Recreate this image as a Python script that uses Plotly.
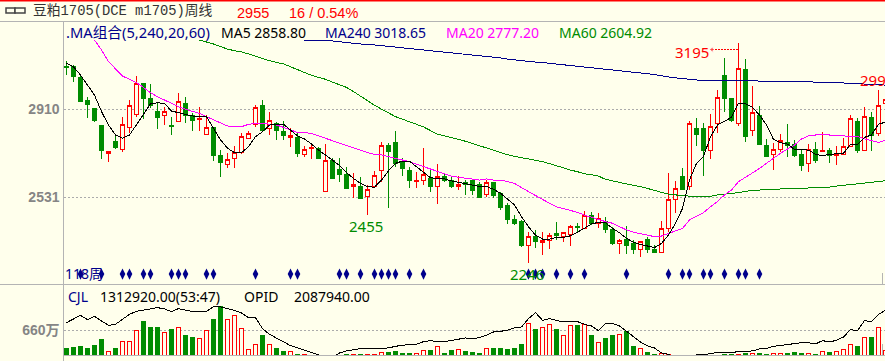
import plotly.graph_objects as go

W, H = 885, 361
BG = "#FFFFEC"
RED = "#FF0000"
GREEN = "#008C00"
NAVY = "#00008B"
MAG = "#FF00FF"
GRAY = "#B4B4B4"

opens = [3095,3095,3046,2947,2913,2841,2719,2772,2735,2831,2886,3021,2956,2900,2883,2840,2857,2934,2880,2865,2801,2831,2710,2670,2698,2723,2784,2845,2923,2825,2848,2811,2789,2787,2713,2739,2739,2554,2689,2650,2630,2578,2578,2532,2575,2647,2752,2766,2680,2647,2597,2604,2611,2575,2619,2604,2575,2593,2600,2587,2541,2593,2547,2494,2435,2425,2323,2363,2336,2342,2372,2363,2370,2406,2396,2453,2418,2425,2389,2331,2349,2331,2306,2346,2303,2293,2396,2521,2621,2575,2827,2824,2732,2848,3056,2956,2848,3078,2818,2880,2751,2715,2736,2766,2758,2712,2676,2736,2726,2732,2710,2716,2748,2858,2732,2874,2805,2932]
closes = [3088,3052,2944,2929,2860,2731,2726,2743,2844,2926,3021,2955,2923,2873,2900,2834,2942,2884,2860,2870,2831,2709,2679,2693,2723,2791,2805,2917,2817,2860,2817,2795,2794,2719,2736,2745,2696,2687,2609,2626,2568,2583,2525,2564,2623,2752,2729,2676,2652,2604,2604,2630,2575,2621,2604,2575,2587,2583,2561,2530,2593,2537,2486,2432,2418,2324,2363,2339,2342,2367,2365,2377,2406,2400,2451,2416,2439,2389,2329,2344,2324,2303,2339,2306,2291,2396,2521,2568,2565,2848,2802,2733,2834,2960,2955,2860,3085,2791,2896,2759,2705,2736,2775,2751,2709,2666,2736,2690,2731,2709,2719,2748,2870,2731,2878,2795,2926,2952]
highs = [3118,3100,3061,2960,2913,2841,2731,2794,2874,2949,3052,3021,3018,2942,2917,2877,2977,2960,2891,2920,2884,2834,2733,2719,2752,2805,2817,2926,2949,2899,2855,2858,2827,2812,2752,2762,2748,2759,2698,2698,2662,2633,2619,2583,2642,2766,2765,2815,2698,2662,2640,2741,2647,2673,2633,2619,2621,2604,2604,2597,2604,2597,2554,2504,2453,2432,2382,2389,2382,2374,2425,2382,2410,2420,2471,2468,2461,2446,2403,2349,2406,2346,2342,2357,2324,2428,2633,2600,2657,2860,2870,2848,2889,2990,3128,2956,3195,3124,3009,2923,2779,2762,2802,2845,2776,2733,2758,2769,2810,2741,2751,2787,2884,2870,2917,2899,2994,2955]
lows = [3056,3028,2940,2871,2855,2693,2683,2738,2726,2808,2877,2867,2916,2824,2841,2798,2857,2848,2815,2817,2801,2687,2619,2654,2654,2716,2784,2834,2812,2798,2777,2777,2748,2705,2702,2693,2696,2554,2609,2594,2564,2525,2522,2453,2568,2597,2482,2662,2623,2568,2568,2583,2554,2501,2597,2568,2561,2540,2540,2530,2532,2525,2475,2415,2410,2317,2245,2310,2281,2307,2346,2339,2320,2374,2392,2410,2396,2374,2324,2285,2285,2285,2274,2291,2291,2291,2382,2464,2561,2561,2751,2623,2693,2808,2899,2855,2837,2769,2795,2755,2705,2647,2726,2705,2705,2644,2640,2676,2726,2676,2669,2715,2748,2719,2731,2731,2794,2906]

ma5 = [3107,3092,3056,3013,2970,2899,2841,2798,2784,2798,2841,2884,2932,2937,2934,2901,2894,2889,2880,2878,2877,2827,2777,2741,2722,2722,2748,2791,2812,2841,2845,2844,2820,2794,2781,2759,2733,2712,2690,2666,2636,2611,2590,2576,2573,2604,2644,2676,2686,2685,2662,2636,2614,2610,2609,2600,2594,2587,2580,2576,2576,2564,2547,2521,2497,2446,2403,2367,2350,2350,2357,2357,2364,2379,2396,2415,2422,2420,2396,2377,2353,2336,2327,2320,2313,2331,2367,2418,2482,2604,2676,2705,2791,2841,2858,2874,2934,2932,2917,2884,2841,2779,2765,2759,2736,2733,2733,2715,2709,2715,2716,2719,2758,2758,2788,2798,2845,2853]
ma20 = [None]*4 + [3207,3164,3114,3085,3052,3038,3023,3003,2980,2963,2949,2932,2920,2909,2899,2891,2877,2863,2848,2837,2834,2834,2844,2848,2848,2845,2841,2831,2820,2809,2808,2805,2794,2784,2772,2762,2751,2741,2731,2722,2715,2712,2705,2698,2690,2683,2672,2662,2650,2640,2630,2621,2616,2611,2607,2604,2609,2604,2604,2597,2590,2571,2554,2535,2518,2504,2489,2482,2475,2465,2453,2443,2435,2425,2418,2403,2389,2379,2374,2367,2360,2363,2374,2384,2396,2432,2449,2464,2489,2511,2540,2561,2597,2616,2633,2654,2676,2698,2719,2738,2755,2781,2794,2798,2801,2798,2794,2794,2794,2791,2781,2774,2766,2776]
ma60 = [None]*19 + [3207,3199,3190,3179,3168,3161,3156,3147,3137,3127,3118,3111,3104,3092,3079,3065,3055,3046,3038,3026,3016,3003,2985,2967,2946,2926,2909,2891,2877,2866,2854,2843,2833,2817,2802,2794,2788,2779,2771,2762,2752,2742,2732,2723,2713,2705,2700,2695,2690,2683,2675,2665,2656,2647,2640,2631,2627,2621,2607,2600,2594,2588,2581,2576,2568,2561,2551,2543,2540,2537,2534,2532,2532,2534,2540,2543,2545,2550,2555,2560,2561,2563,2564,2565,2567,2567,2568,2568,2570,2573,2574,2578,2581,2583,2587,2591,2594,2597,2601]
ma240 = [None]*34 + [3207,3207,3207,3206,3203,3199,3196,3193,3190,3189,3186,3183,3180,3176,3173,3171,3168,3166,3163,3160,3157,3154,3151,3148,3145,3140,3137,3133,3130,3125,3121,3118,3115,3112,3110,3107,3104,3101,3098,3095,3092,3088,3084,3081,3078,3074,3072,3069,3067,3062,3058,3052,3048,3044,3041,3039,3034,3032,3032,3032,3031,3029,3029,3029,3029,3029,3029,3029,3029,3029,3029,3029,3029,3025,3023,3023,3022,3022,3021,3019,3018,3016,3015,3013]

volume = [187,214,241,187,268,428,107,187,375,375,642,910,749,749,615,696,723,535,482,455,642,963,1311,937,1044,696,161,294,535,294,187,107,107,27,27,0,0,0,0,0,27,27,27,27,27,71,89,107,54,54,54,134,134,241,54,134,161,107,80,54,187,187,187,161,187,294,830,696,723,803,696,535,776,803,803,535,339,455,535,562,642,241,187,80,27,45,27,0,0,0,0,0,0,0,27,27,27,54,54,54,27,54,54,54,80,54,54,27,98,80,98,152,294,241,482,482,723,134]
opid = [190.3,196.3,201.3,194.8,199.8,192.8,186.3,187.8,194.8,202.8,207.3,208.8,211.3,212.8,210.8,206.8,211.3,208.8,206.8,206.3,207.3,214.3,213.8,211.3,208.8,204.8,197.8,197.8,181.3,172.8,167.3,161.3,155.8,152.3,148.8,144.8,141.3,138.8,138.8,144.8,147.8,149.8,151.3,151.3,151.3,151.3,152.3,154.8,156.8,157.8,157.8,161.8,163.3,161.8,161.8,163.8,166.3,167.3,166.3,167.8,171.3,176.3,177.3,178.8,182.3,183.8,196.3,205.3,193.8,196.3,193.8,191.3,192.3,191.8,187.8,185.3,178.3,188.8,188.8,185.3,177.3,168.8,161.3,155.3,152.3,144.8,142.8,138.8,137.8,137.8,142.3,142.3,143.8,145.8,145.3,144.8,147.3,147.8,147.8,150.8,151.3,154.8,155.8,157.8,158.8,160.3,160.3,158.3,163.3,161.3,163.8,168.8,179.8,178.3,193.3,191.8,202.8,208.8]

signal_weeks = [2,5,8,9,11,12,15,16,17,20,21,27,32,33,39,40,42,44,45,46,47,49,51,66,67,68,70,72,74,80,86,88,89,91,92,94,96,97,99]
price_ticks = [2531, 2910]
price_tick_text = ["2531", "2910"]
vol_ticks = [660]
vol_tick_text = ["660万"]

n = len(opens)
for arr in (closes, highs, lows, ma5, ma20, ma60, ma240, volume, opid):
    assert len(arr) == n, len(arr)
weeks = list(range(n))

# pixel helpers for page furniture only
xp = lambda px: px / W
yp = lambda px: 1 - px / H

fig = go.Figure()

fig.add_trace(go.Candlestick(
    x=weeks, open=opens, high=highs, low=lows, close=closes,
    increasing=dict(line=dict(color=RED, width=1), fillcolor=BG),
    decreasing=dict(line=dict(color=GREEN, width=1), fillcolor=GREEN),
    whiskerwidth=0, hoverinfo="skip", xaxis="x", yaxis="y"))

for vals, col in ((ma240, NAVY), (ma60, GREEN), (ma20, MAG), (ma5, "#000000")):
    fig.add_trace(go.Scatter(x=weeks, y=vals, mode="lines", line=dict(color=col, width=1),
                             hoverinfo="skip", xaxis="x", yaxis="y"))

SIGNAL_LEVEL = 2199
fig.add_trace(go.Scatter(x=signal_weeks, y=[SIGNAL_LEVEL] * len(signal_weeks), mode="markers",
                         marker=dict(symbol="diamond-tall", color=NAVY, size=8, line=dict(width=0)),
                         hoverinfo="skip", xaxis="x", yaxis="y"))

# dotted pointer towards the 3195 high
fig.add_trace(go.Scatter(x=[92.2, 95.9], y=[3166, 3166], mode="lines+markers",
                         line=dict(color=RED, width=1, dash="2px,1px"),
                         marker=dict(symbol=["triangle-left", "circle"], size=[5, 0], color=RED),
                         hoverinfo="skip", xaxis="x", yaxis="y"))

up = [c >= o for o, c in zip(opens, closes)]
fig.add_trace(go.Bar(x=[w for w in weeks if not up[w]], y=[volume[w] for w in weeks if not up[w]],
                     width=0.72, marker=dict(color=GREEN, line=dict(width=0)),
                     hoverinfo="skip", xaxis="x2", yaxis="y2"))
fig.add_trace(go.Bar(x=[w for w in weeks if up[w]], y=[volume[w] for w in weeks if up[w]],
                     width=0.6, marker=dict(color=BG, line=dict(color=RED, width=1)),
                     hoverinfo="skip", xaxis="x2", yaxis="y2"))
fig.add_trace(go.Scatter(x=weeks, y=opid, mode="lines", line=dict(color="#000000", width=1),
                         hoverinfo="skip", xaxis="x2", yaxis="y3"))

SANS = "Noto Sans, Noto Sans CJK SC, sans-serif"
ARIAL = "Liberation Sans, Noto Sans CJK SC, sans-serif"
MONO = "Liberation Mono, Noto Sans CJK SC, monospace"

def label(text, x, y, color, size=14, family=SANS, anchor="left"):
    fig.add_annotation(text=text, x=xp(x), y=yp(y), xref="paper", yref="paper",
                       xanchor=anchor, yanchor="middle", showarrow=False,
                       font=dict(color=color, size=size, family=family), borderpad=0, borderwidth=0)

label("豆粕1705(DCE m1705)周线", 33, 11, "#333333", 13.8, MONO)
label("2955", 237, 13, RED, 14.5, ARIAL)
label("16 / 0.54%", 289, 13, RED, 14.5, ARIAL)
label(".MA组合(5,240,20,60)", 66, 32, NAVY, 14.7)
label("MA5 2858.80", 221, 32, "#000000", 14)
label("MA240 3018.65", 325, 32, NAVY, 14)
label("MA20 2777.20", 446, 32, MAG, 14)
label("MA60 2604.92", 559, 32, GREEN, 14)
label("3195", 675, 52, RED, 15)
label("299", 860, 80, RED, 15)
label("2455", 349, 226, GREEN, 15)
label("2246", 510, 274, GREEN, 15)
label("118周", 65, 273, NAVY, 14)
label("CJL", 68, 296, NAVY, 14)
label("1312920.00(53:47)", 100, 296, "#000000", 14)
label("OPID", 244, 296, "#000000", 14)
label("2087940.00", 294, 296, "#000000", 14)

def hline(y, x0=0, x1=W, color=GRAY, width=1):
    fig.add_shape(type="line", xref="paper", yref="paper", x0=xp(x0), x1=xp(x1), y0=yp(y), y1=yp(y),
                  line=dict(color=color, width=width))

def vline(x, y0, y1, color=GRAY, width=1):
    fig.add_shape(type="line", xref="paper", yref="paper", x0=xp(x), x1=xp(x), y0=yp(y0), y1=yp(y1),
                  line=dict(color=color, width=width))

hline(0.5, color=RED, width=2)
hline(21.5)
hline(284.5, x0=0)
hline(355.5, x0=63)
vline(63.5, 21, 361)
vline(882.5, 273, 284)
vline(882.5, 344, 355)
# link icon in the title bar
for x0, x1 in ((6, 15), (15, 25)):
    fig.add_shape(type="rect", xref="paper", yref="paper", x0=xp(x0), x1=xp(x1), y0=yp(8), y1=yp(13),
                  line=dict(color="#444444", width=1.5), fillcolor=BG)

P_TOP, P_BOT = 39.0, 284.0
V_TOP, V_BOT = 285.0, 355.3
price_at = lambda py: 2910 - (py - 109) * 379 / 88
vol_at = lambda py: (V_BOT - py) * 660 / 25
opid_at = lambda py: 141.3 + (V_BOT - py) * 1.5

tick = dict(color="#858585", size=14, family=ARIAL, weight="bold")
fig.update_layout(
    width=W, height=H, margin=dict(l=0, r=0, t=0, b=0), autosize=False,
    paper_bgcolor=BG, plot_bgcolor=BG, showlegend=False, barmode="overlay", boxgap=0.1,
    xaxis=dict(domain=[xp(63.5), 1], range=[-0.4286, 116.93], visible=False, rangeslider=dict(visible=False),
               anchor="y"),
    xaxis2=dict(domain=[xp(63.5), 1], range=[-0.4286, 116.93], visible=False, anchor="y2"),
    yaxis=dict(domain=[yp(P_BOT), yp(P_TOP)], range=[price_at(P_BOT), price_at(P_TOP)],
               tickmode="array", tickvals=price_ticks, ticktext=price_tick_text, tickfont=tick,
               showgrid=True, gridcolor="#ABABAB", griddash="2px,2px", gridwidth=1,
               zeroline=False, ticks="", anchor="x", ticklabelstandoff=3),
    yaxis2=dict(domain=[yp(V_BOT), yp(V_TOP)], range=[0, vol_at(V_TOP)],
                tickmode="array", tickvals=vol_ticks, ticktext=vol_tick_text, tickfont=tick,
                showgrid=True, gridcolor="#ABABAB", griddash="2px,2px", gridwidth=1,
                zeroline=False, ticks="", anchor="x2", ticklabelstandoff=3),
    yaxis3=dict(domain=[yp(V_BOT), yp(V_TOP)], overlaying="y2", side="right",
                range=[opid_at(V_BOT), opid_at(V_TOP)], visible=False, anchor="x2"),
)
crisp = ("var s=document.createElement('style');"
         "s.textContent='.boxlayer path,.barlayer path,.scatterlayer .js-line{shape-rendering:crispEdges !important}';"
         "document.head.appendChild(s);")
fig.write_html("out.html", config=dict(displayModeBar=False),
               post_script="document.body.style.margin='0';document.documentElement.style.background='#FFFFEC';document.body.style.overflow='hidden';" + crisp)
